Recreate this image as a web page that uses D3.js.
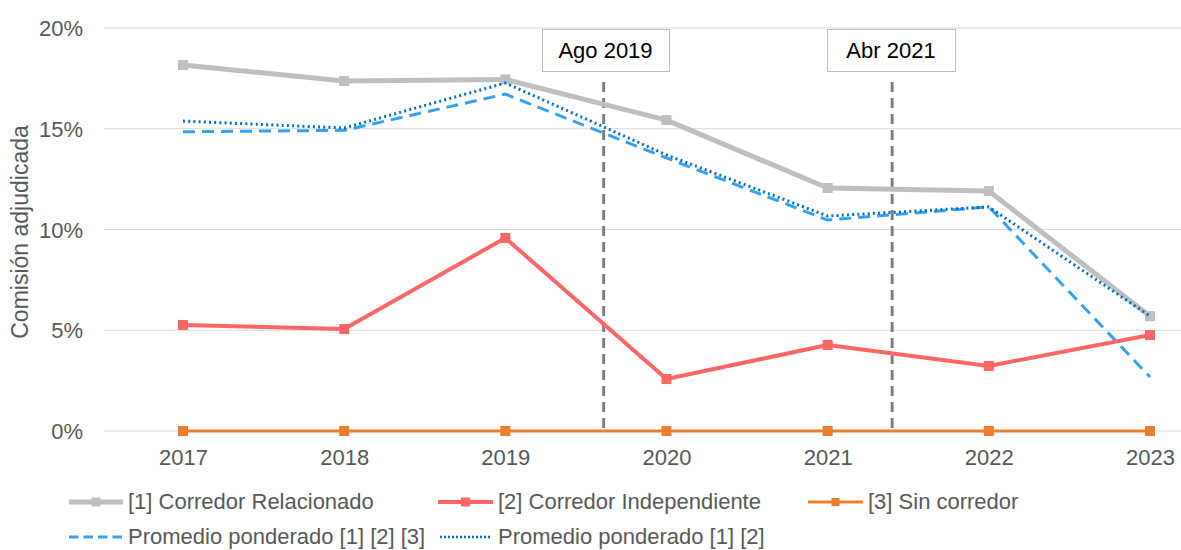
<!DOCTYPE html>
<html><head><meta charset="utf-8">
<script src="https://cdn.jsdelivr.net/npm/d3@7"></script>
<style>body{margin:0;background:#fff;}svg{display:block;font-family:"Liberation Sans",Arial,sans-serif;}</style>
</head><body><svg id="c" width="1181" height="550"></svg>
<script>
const years = ["2017","2018","2019","2020","2021","2022","2023"];
const relacionado = [18.16, 17.37, 17.45, 15.43, 12.06, 11.91, 5.7];
const independiente = [5.26, 5.06, 9.58, 2.58, 4.27, 3.23, 4.76];
const sinCorredor = [0, 0, 0, 0, 0, 0, 0];
const promedio123 = [14.85, 14.92, 16.72, 13.55, 10.47, 11.12, 2.68];
const promedio12 = [15.38, 15.04, 17.27, 13.7, 10.67, 11.12, 5.7];
const yTicks = [0, 5, 10, 15, 20];
const events = [{label:"Ago 2019", pos:2.61}, {label:"Abr 2021", pos:4.4}];
const legendNames = ["[1] Corredor Relacionado","[2] Corredor Independiente","[3] Sin corredor","Promedio ponderado [1] [2] [3]","Promedio ponderado [1] [2]"];

const svg = d3.select("#c");
const FS = 22;
const x = d3.scalePoint().domain(years).range([183, 1150]);
const xi = d3.scaleLinear().domain([0, 6]).range([183, 1150]);
const y = d3.scaleLinear().domain([0, 20]).range([431, 28]);

// gridlines
svg.append("g").selectAll("line").data(yTicks).join("line")
  .attr("x1",104).attr("x2",1181).attr("y1",d=>y(d)).attr("y2",d=>y(d))
  .attr("stroke","#d9d9d9").attr("stroke-width",1);

// y axis labels
const yAxis = d3.axisLeft(y).tickValues(yTicks).tickFormat(d=>d+"%").tickSize(0).tickPadding(0);
const ya = svg.append("g").attr("transform","translate(83,0)").call(yAxis);
ya.select(".domain").remove();
ya.selectAll("text").attr("font-size",FS).attr("fill","#595959").attr("font-family","Liberation Sans, Arial, sans-serif").attr("dy","0.35em");

// x axis labels
const xAxis = d3.axisBottom(x).tickSize(0).tickPadding(0);
const xa = svg.append("g").attr("transform","translate(0,465)").call(xAxis);
xa.select(".domain").remove();
xa.selectAll("text").attr("font-size",FS).attr("fill","#595959").attr("font-family","Liberation Sans, Arial, sans-serif").attr("dy",0);

// y title
svg.append("text").attr("transform","translate(28,232) rotate(-90)").attr("text-anchor","middle")
  .attr("font-size",23).attr("fill","#595959").text("Comisión adjudicada");

// event lines
events.forEach(e=>{
  const ex = xi(e.pos);
  svg.append("line").attr("x1",ex).attr("x2",ex).attr("y1",82).attr("y2",431)
    .attr("stroke","#7f7f7f").attr("stroke-width",3).attr("stroke-dasharray","10,6");
});

const line = d3.line().x((d,i)=>x(years[i])).y(d=>y(d));
function series(vals, color, w, dash, marker){
  svg.append("path").datum(vals).attr("d",line).attr("fill","none").attr("stroke",color)
    .attr("stroke-width",w).attr("stroke-dasharray",dash||null).attr("stroke-linejoin","round");
  if(marker){
    svg.append("g").selectAll("rect").data(vals).join("rect")
      .attr("x",(d,i)=>x(years[i])-marker/2).attr("y",d=>y(d)-marker/2)
      .attr("width",marker).attr("height",marker).attr("fill",color);
  }
}
series(relacionado, "#bfbfbf", 5, null, 10);
series(promedio123, "#36a2f5", 3, "12,7", 0);
series(promedio12, "#0070c0", 3, "2,3.2", 0);
series(independiente, "#ff6666", 4, null, 10);
series(sinCorredor, "#ed7d31", 3, null, 10);

// event boxes
const boxes = [{b:542,w:127},{b:827,w:128}];
events.forEach((e,i)=>{
  const g = svg.append("g");
  g.append("rect").attr("x",boxes[i].b+0.5).attr("y",29.5).attr("width",boxes[i].w).attr("height",42)
    .attr("fill","#fff").attr("stroke","#bfbfbf").attr("stroke-width",1);
  g.append("text").attr("x",boxes[i].b+boxes[i].w/2).attr("y",58)
    .attr("text-anchor","middle").attr("font-size",FS).attr("fill","#000").text(e.label);
});

// legend
const leg = [
  {name:legendNames[0], color:"#bfbfbf", w:5, dash:null, m:9, x1:69, x2:123, tx:128, y:502},
  {name:legendNames[1], color:"#ff6666", w:4, dash:null, m:9, x1:438, x2:493, tx:498, y:502},
  {name:legendNames[2], color:"#ed7d31", w:3, dash:null, m:8, x1:808, x2:863, tx:868, y:502},
  {name:legendNames[3], color:"#36a2f5", w:3, dash:"9.5,5", m:0, x1:69, x2:123, tx:128, y:537},
  {name:legendNames[4], color:"#0070c0", w:2.5, dash:"2,2", m:0, x1:440, x2:491, tx:498, y:537}
];
const lg = svg.append("g");
leg.forEach(l=>{
  lg.append("line").attr("x1",l.x1).attr("x2",l.x2).attr("y1",l.y).attr("y2",l.y)
    .attr("stroke",l.color).attr("stroke-width",l.w).attr("stroke-dasharray",l.dash);
  if(l.m) lg.append("rect").attr("x",(l.x1+l.x2)/2-l.m/2).attr("y",l.y-l.m/2).attr("width",l.m).attr("height",l.m).attr("fill",l.color);
  lg.append("text").attr("x",l.tx).attr("y",l.y+7).attr("font-size",FS).attr("fill","#595959").text(l.name);
});
</script></body></html>
